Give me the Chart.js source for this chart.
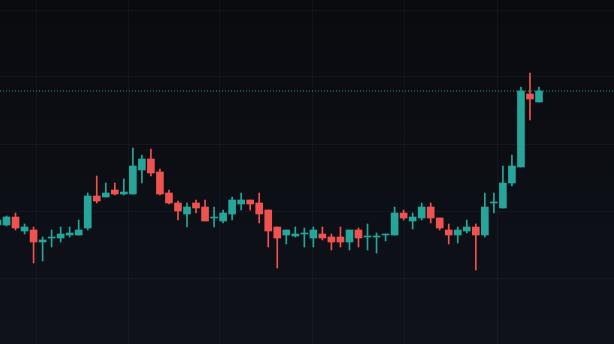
<!DOCTYPE html>
<html><head><meta charset="utf-8">
<script src="https://cdn.jsdelivr.net/npm/chart.js@4.4.1/dist/chart.umd.min.js"></script>
<style>html,body{margin:0;padding:0;background:#0b0d12;overflow:hidden}#wrap{width:614px;height:344px}</style>
</head><body><div id="wrap"><canvas id="c" width="614" height="344"></canvas></div>
<script>
// OHLC values (arbitrary price units)
const opens  = [175,175,183,169,170,158,162,162,165,165,172,204,203,210,206,206,230,241,228,207,197,186,197,193,182,179,186,196,200,197,190,173,165,164,166,162,166,163,163,158,170,163,163,165,165,187,179,182,193,182,170,165,169,173,165,197,192,217,233,306,298];
const highs  = [181,184,187,176,173,163,170,173,173,180,207,224,217,217,221,252,245,251,231,210,199,197,200,200,193,190,203,207,200,207,190,173,170,173,172,173,173,166,173,170,172,176,167,166,193,190,187,197,197,182,176,173,180,176,207,207,234,245,313,327,313];
const lows   = [174,174,170,166,137,139,153,158,163,165,170,197,203,205,205,206,217,224,205,196,180,173,187,179,173,177,180,190,190,177,153,132,156,163,153,153,160,150,153,150,153,150,147,159,165,180,171,180,177,170,156,157,167,130,163,187,192,214,233,280,298];
const closes = [180,183,172,173,158,160,163,166,167,170,204,199,207,206,208,234,241,227,206,197,189,193,192,179,183,187,200,200,196,186,169,162,170,166,167,170,162,158,158,170,162,164,164,166,187,182,183,193,182,172,165,170,173,165,193,198,217,234,309,301,309];
// grid tick values (data units)
const xGridTicks = [4.35,14.5,24.65,34.95,45.1,55.4];
const yGridTicks = [390,323,256,189,122];

const X_MIN = 0.28, X_MAX = 68.31, Y_MIN = 56, Y_MAX = 400;
const UP = '#26a69a', DOWN = '#ef5350';
const candleIdx = opens.map((_, i) => i);
const bodies = candleIdx.map(i => ({x: i, y: [opens[i], closes[i]]}));
const wicks  = candleIdx.map(i => ({x: i, y: [lows[i], highs[i]]}));
const colors = candleIdx.map(i => closes[i] >= opens[i] ? UP : DOWN);
const lastClose = closes[closes.length - 1];

const bgPlugin = {
  id: 'bg',
  beforeDraw(chart) {
    const {ctx, width, height} = chart;
    const g = ctx.createLinearGradient(0, 0, 0, height);
    g.addColorStop(0, '#090b0f');
    g.addColorStop(1, '#0f121a');
    ctx.save(); ctx.fillStyle = g; ctx.fillRect(0, 0, width, height); ctx.restore();
  }
};

const gridStyle = {color: 'rgba(255,255,255,0.035)', drawTicks: false, lineWidth: 1, offset: false};

new Chart(document.getElementById('c'), {
  type: 'bar',
  data: {
    datasets: [
      {type: 'line', data: [{x: X_MIN, y: lastClose}, {x: X_MAX, y: lastClose}],
       borderColor: 'rgba(60,175,163,0.85)', borderWidth: 1, borderDash: [1, 2], pointRadius: 0, order: 3},
      {label: 'wick', data: wicks, backgroundColor: colors, barThickness: 1, grouped: false, order: 2},
      {label: 'body', data: bodies, backgroundColor: colors, barThickness: 7, minBarLength: 1, grouped: false, order: 1}
    ]
  },
  options: {
    responsive: false, animation: false, events: [],
    layout: {padding: 0},
    plugins: {legend: {display: false}, tooltip: {enabled: false}},
    scales: {
      x: {type: 'linear', min: X_MIN, max: X_MAX, offset: false, grid: gridStyle, border: {display: false},
          ticks: {display: false}, afterBuildTicks: s => { s.ticks = xGridTicks.map(v => ({value: v})); }},
      y: {type: 'linear', min: Y_MIN, max: Y_MAX, offset: false, grid: gridStyle, border: {display: false},
          ticks: {display: false}, afterBuildTicks: s => { s.ticks = yGridTicks.map(v => ({value: v})); }}
    }
  },
  plugins: [bgPlugin]
});
</script>
</body></html>
